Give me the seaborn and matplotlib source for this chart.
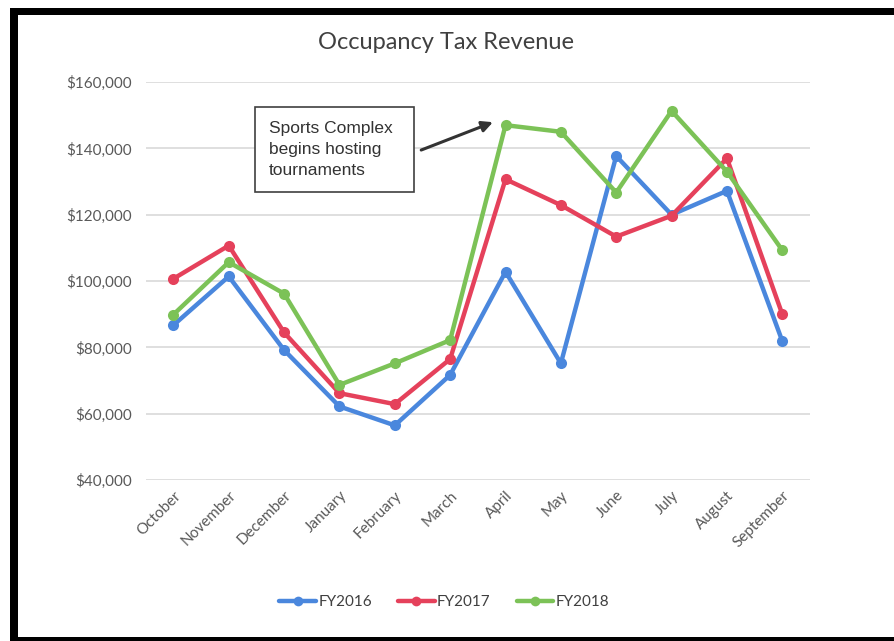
import numpy as np
import pandas as pd
import matplotlib
matplotlib.use("Agg")
import matplotlib.pyplot as plt
from matplotlib.patches import Rectangle
from matplotlib.lines import Line2D
from matplotlib.ticker import FuncFormatter
import seaborn as sns

months = ["October", "November", "December", "January", "February", "March",
          "April", "May", "June", "July", "August", "September"]
fy2016 = [86700, 101400, 79200, 62200, 56500, 71700,
          102800, 75200, 137700, 120000, 127200, 81900]
fy2017 = [100700, 110700, 84500, 66200, 62900, 76500,
          130700, 122900, 113400, 119700, 137000, 90000]
fy2018 = [89900, 105700, 96200, 68700, 75200, 82200,
          147000, 145000, 126700, 151300, 133000, 109300]
series_names = ["FY2016", "FY2017", "FY2018"]
y_ticks = [40000, 60000, 80000, 100000, 120000, 140000, 160000]

colors = ["#4a87dd", "#e5415b", "#7cc257"]

df = pd.DataFrame({
    "month": months * 3,
    "pos": list(range(len(months))) * 3,
    "revenue": fy2016 + fy2017 + fy2018,
    "year": [n for n in series_names for _ in months],
})

sns.set_style("white")
plt.rcParams["font.family"] = ["Lato", "DejaVu Sans"]

fig = plt.figure(figsize=(8.94, 6.41), dpi=100)
ax = fig.add_axes([0.163, 0.251, 0.743, 0.621])

sns.lineplot(data=df, x="pos", y="revenue", hue="year", palette=colors,
             marker="o", markersize=8, markeredgewidth=0, linewidth=3.2,
             ax=ax, legend=False)

ax.set_xlim(-0.5, len(months) - 0.5)
ax.set_ylim(40000, 160000)
ax.set_yticks(y_ticks)
ax.yaxis.set_major_formatter(FuncFormatter(lambda v, p: f"${v:,.0f}"))
ax.set_xticks(range(len(months)))
ax.set_xticklabels(months, rotation=45, ha="right", rotation_mode="anchor")
ax.tick_params(axis="both", length=0, labelsize=11, labelcolor="#595959")
ax.tick_params(axis="y", pad=10)
ax.tick_params(axis="x", pad=6)
ax.set_xlabel("")
ax.set_ylabel("")
ax.grid(axis="y", color="#d9d9d9", linewidth=1.2)
ax.grid(axis="x", visible=False)
for s in ax.spines.values():
    s.set_visible(False)

fig.text(0.499, 0.934, "Occupancy Tax Revenue", ha="center", va="center",
         fontsize=17, color="#404040")

# callout box with arrow pointing at the April jump
ax.add_patch(Rectangle((1.47, 126840), 2.88, 25620, facecolor="white",
                       edgecolor="#404040", linewidth=1.2, zorder=5))
ax.text(1.72, 139600, "Sports Complex\nbegins hosting\ntournaments",
        ha="left", va="center", fontsize=12.5, color="#333333",
        family=["Liberation Sans", "DejaVu Sans"], linespacing=1.5, zorder=6)
ax.annotate("", xy=(5.82, 148200), xytext=(4.43, 139200),
            arrowprops=dict(arrowstyle="-|>", color="#333333", lw=2.2,
                            mutation_scale=16), zorder=6)

# legend
handles = [Line2D([0], [0], color=c, lw=3.2, marker="o", markersize=7,
                  markeredgewidth=0) for c in colors]
fig.legend(handles, series_names, loc="center", bbox_to_anchor=(0.497, 0.061),
           ncol=3, frameon=False, fontsize=11, handlelength=2.4,
           handletextpad=0.15, columnspacing=1.7, labelcolor="#404040")

# dark frame
W, H = 894, 641
fig.patches.append(Rectangle((10 / W, 1 - 15 / H), 1, 7 / H, transform=fig.transFigure,
                             facecolor="black", edgecolor="none"))
fig.patches.append(Rectangle((10 / W, 0), 8 / W, 1 - 8 / H, transform=fig.transFigure,
                             facecolor="black", edgecolor="none"))
fig.patches.append(Rectangle((10 / W, 0), 1, 4 / H, transform=fig.transFigure,
                             facecolor="black", edgecolor="none"))

fig.savefig("out.png", dpi=100, facecolor="white")
